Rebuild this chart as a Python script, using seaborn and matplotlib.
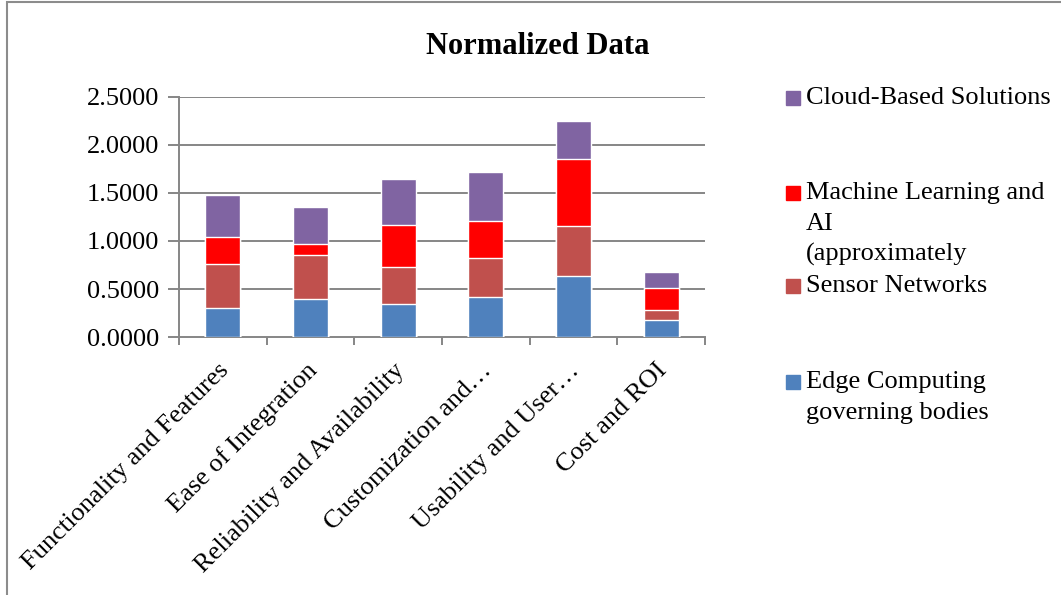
import numpy as np
import pandas as pd
import matplotlib
matplotlib.use("Agg")
import matplotlib.pyplot as plt
import matplotlib.transforms as mtransforms
from matplotlib.patches import Rectangle
import seaborn as sns

categories = [
    "Functionality and Features",
    "Ease of Integration",
    "Reliability and Availability",
    "Customization and…",
    "Usability and User…",
    "Cost and ROI",
]
edge_computing = [0.300, 0.396, 0.340, 0.420, 0.635, 0.177]
sensor_networks = [0.460, 0.458, 0.386, 0.399, 0.521, 0.104]
machine_learning = [0.285, 0.118, 0.441, 0.393, 0.702, 0.226]
cloud_solutions = [0.437, 0.382, 0.482, 0.503, 0.395, 0.170]

series_names = [
    "Edge Computing\ngoverning bodies",
    "Sensor Networks",
    "Machine Learning and\nAI\n(approximately",
    "Cloud-Based Solutions",
]
series_values = [edge_computing, sensor_networks, machine_learning, cloud_solutions]
series_colors = ["#4F81BD", "#C0504D", "#FF0000", "#8064A2"]
y_ticks = [0.0, 0.5, 1.0, 1.5, 2.0, 2.5]

sns.set_theme(style="white")
plt.rcParams["font.family"] = ["Liberation Serif", "DejaVu Serif"]
plt.rcParams["text.color"] = "black"
plt.rcParams["xtick.color"] = "black"
plt.rcParams["ytick.color"] = "black"

grid_grey = "#868686"
FS = 19

fig = plt.figure(figsize=(10.61, 5.95), dpi=100)
ax = fig.add_axes([0.1687, 0.4336, 0.4958, 0.4034])

# cumulative heights, drawn from the top segment down so each layer overlays the one above
cum = np.cumsum(np.array(series_values), axis=0)
for i in range(len(series_values) - 1, -1, -1):
    df = pd.DataFrame({"category": categories, "value": cum[i]})
    sns.barplot(data=df, x="category", y="value", color=series_colors[i],
                saturation=1, width=0.40, ax=ax, zorder=3)

ax.set_ylim(0, 2.5)
ax.set_xlim(-0.5, len(categories) - 0.5)
ax.set_yticks(y_ticks)
ax.set_yticklabels([f"{v:.4f}" for v in y_ticks], fontsize=FS)
ax.set_xlabel("")
ax.set_ylabel("")

for v in y_ticks[1:]:
    ax.axhline(v, color=grid_grey, lw=1.4, zorder=1)

for s in ["top", "right"]:
    ax.spines[s].set_visible(False)
for s in ["left", "bottom"]:
    ax.spines[s].set_color(grid_grey)
    ax.spines[s].set_linewidth(1.4)

ax.tick_params(axis="y", which="major", direction="out", length=8, width=1.4,
               color=grid_grey, left=True, pad=6, labelcolor="black")

# category labels at centres, tick marks at category boundaries
ax.set_xticks(np.arange(len(categories)))
ax.set_xticklabels(categories, rotation=45, ha="right", rotation_mode="anchor",
                   fontsize=FS, color="black")
ax.tick_params(axis="x", which="major", length=0, pad=16)
shift = mtransforms.ScaledTranslation(-5 / 100, 0, fig.dpi_scale_trans)
for lbl in ax.get_xticklabels():
    lbl.set_transform(lbl.get_transform() + shift)
ax.set_xticks(np.arange(-0.5, len(categories)), minor=True)
ax.tick_params(axis="x", which="minor", direction="out", length=6, width=1.4,
               color=grid_grey, bottom=True)

fig.text(0.507, 0.922, "Normalized Data", ha="center", va="center",
         fontsize=22, fontweight="bold")

# legend, top entry first
W, H = 1061.0, 595.0
legend_rows = [(3, 97.7), (2, 193.0), (1, 286.0), (0, 382.0)]
for idx, yc in legend_rows:
    fig.patches.append(Rectangle((786 / W, 1 - (yc + 7) / H), 14 / W, 14 / H,
                                 transform=fig.transFigure, color=series_colors[idx],
                                 figure=fig))
    for j, line in enumerate(series_names[idx].split("\n")):
        fig.text(806 / W, 1 - (yc + j * 30.5) / H, line, ha="left", va="center",
                 fontsize=FS)

# chart border
fig.patches.append(Rectangle((7 / W, -0.05), 1.1, 1 - 2 / H + 0.05,
                             transform=fig.transFigure, fill=False,
                             edgecolor="#8c8c8c", lw=1.5, figure=fig))

fig.savefig("out.png", dpi=100)
